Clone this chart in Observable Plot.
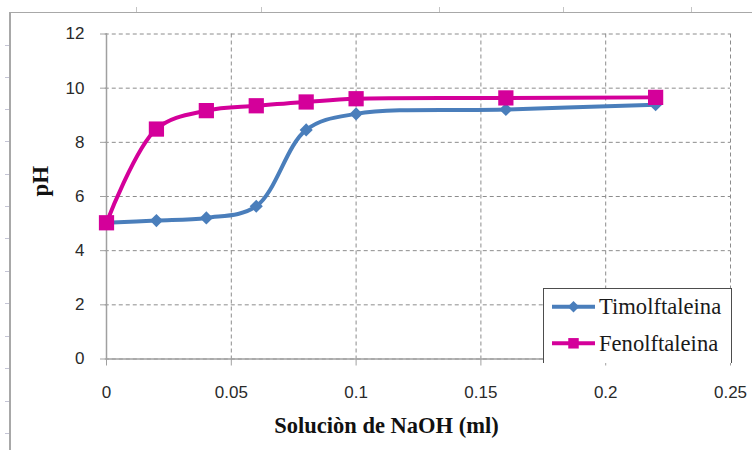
<!DOCTYPE html>
<html>
<head>
<meta charset="utf-8">
<script src="https://cdn.jsdelivr.net/npm/d3@7"></script>
<script src="https://cdn.jsdelivr.net/npm/@observablehq/plot@0.6"></script>
<style>
  html, body { margin: 0; padding: 0; background: #fff; }
  #wrap { position: relative; width: 752px; height: 450px; overflow: hidden; background: #fff; }
  #wrap svg.plot { position: absolute; left: 0; top: 0; }
  .frame { position: absolute; background: #a8a8a8; }
  #legend { position: absolute; background: #fff; border: 1.5px solid #4d4d4d; border-bottom: none; box-sizing: border-box; }
</style>
</head>
<body>
<div id="wrap"></div>
<script>
// ---- data ----
const naoh = [0, 0.02, 0.04, 0.06, 0.08, 0.1, 0.16, 0.22];
const timolftaleina = [5.03, 5.11, 5.21, 5.64, 8.46, 9.05, 9.21, 9.39];
const fenolftaleina = [5.03, 8.49, 9.17, 9.35, 9.49, 9.61, 9.64, 9.66];
const seriesNames = ["Timolftaleina", "Fenolftaleina"];
const xTicks = [0, 0.05, 0.1, 0.15, 0.2, 0.25];
const yTicks = [0, 2, 4, 6, 8, 10, 12];
const xTitle = "Soluciòn de NaOH (ml)";
const yTitle = "pH";

const colors = ["#4a7ebb", "#d4009a"];
const symbols = ["diamond2", "square"];

const rows = [];
naoh.forEach((x, i) => {
  rows.push({x, y: timolftaleina[i], s: seriesNames[0]});
});
naoh.forEach((x, i) => {
  rows.push({x, y: fenolftaleina[i], s: seriesNames[1]});
});
const s0 = rows.filter(d => d.s === seriesNames[0]);
const s1 = rows.filter(d => d.s === seriesNames[1]);

const chart = Plot.plot({
  width: 752,
  height: 450,
  marginLeft: 106,
  marginRight: 22,
  marginTop: 33.5,
  marginBottom: 91.5,
  style: {fontFamily: "'Liberation Sans', Arial, sans-serif", fontSize: "17px", color: "#2a2a2a", background: "transparent"},
  x: {domain: [0, 0.25]},
  y: {domain: [0, 12]},
  marks: [
    Plot.gridX(xTicks, {stroke: "#8c8c8c", strokeOpacity: 1, strokeDasharray: "4,3", strokeWidth: 1}),
    Plot.gridY(yTicks, {stroke: "#8c8c8c", strokeOpacity: 1, strokeDasharray: "4,3", strokeWidth: 1, x1: -0.0005, x2: 0.25}),
    Plot.axisX(xTicks, {tickSize: 7, tickPadding: 20, stroke: "#a0a0a0", fontSize: 17, tickFormat: d => String(+d.toFixed(2)), label: null}),
    Plot.axisY(yTicks, {tickSize: 6, tickPadding: 16, stroke: "#a0a0a0", fontSize: 17, label: null}),
    Plot.ruleX([0], {stroke: "#a0a0a0", strokeWidth: 1.5}),
    Plot.ruleY([0], {stroke: "#a0a0a0", strokeWidth: 1.5}),
    Plot.line(s0, {x: "x", y: "y", stroke: colors[0], strokeWidth: 4, curve: "catmull-rom"}),
    Plot.dot(s0, {x: "x", y: "y", symbol: symbols[0], fill: colors[0], r: 5.9}),
    Plot.line(s1, {x: "x", y: "y", stroke: colors[1], strokeWidth: 4, curve: "catmull-rom"}),
    Plot.dot(s1, {x: "x", y: "y", symbol: symbols[1], fill: colors[1], r: 8.6}),
    Plot.text([xTitle], {frameAnchor: "bottom", dy: 66.5, dx: -32, lineAnchor: "middle", fontFamily: "'Liberation Serif', 'Times New Roman', serif", fontWeight: "bold", fontSize: 22.5, fill: "#111"}),
    Plot.text([yTitle], {frameAnchor: "left", dx: -66, rotate: -90, lineAnchor: "middle", fontFamily: "'Liberation Serif', 'Times New Roman', serif", fontWeight: "bold", fontSize: 23, fill: "#111"})
  ]
});
chart.classList.add("plot");
const wrap = document.getElementById("wrap");

// page frame decorations
function addDiv(cls, l, t, w, h, bg) {
  const d = document.createElement("div");
  d.className = cls;
  Object.assign(d.style, {left: l + "px", top: t + "px", width: w + "px", height: h + "px"});
  if (bg) d.style.background = bg;
  wrap.appendChild(d);
}
addDiv("frame", 9, 12, 2, 438);
addDiv("frame", 9, 11.5, 743, 1.5);
[45, 77, 109, 141, 174, 206, 238, 271, 303, 336, 368, 401, 433].forEach(t => addDiv("frame", 5, t, 4, 1, "#c4c4d4"));
[136, 261, 439, 563, 691].forEach(l => addDiv("frame", l, 7, 1, 5, "#c4c4c4"));

wrap.appendChild(chart);

// legend
const leg = document.createElement("div");
leg.id = "legend";
Object.assign(leg.style, {left: "543px", top: "288px", width: "189px", height: "75px"});
const ns = "http://www.w3.org/2000/svg";
const lsvg = document.createElementNS(ns, "svg");
lsvg.setAttribute("width", 189);
lsvg.setAttribute("height", 75);
lsvg.style.position = "absolute";
lsvg.style.left = "-1.5px";
lsvg.style.top = "-1.5px";
const rowY = [18.7, 55.3];
seriesNames.forEach((name, i) => {
  const y = rowY[i];
  const ln = document.createElementNS(ns, "line");
  ln.setAttribute("x1", 9); ln.setAttribute("x2", 52);
  ln.setAttribute("y1", y); ln.setAttribute("y2", y);
  ln.setAttribute("stroke", colors[i]); ln.setAttribute("stroke-width", 4);
  lsvg.appendChild(ln);
  const p = document.createElementNS(ns, "path");
  const sym = i === 0 ? d3.symbol(d3.symbolDiamond2, 85) : d3.symbol(d3.symbolSquare, 110);
  p.setAttribute("d", sym());
  p.setAttribute("transform", `translate(30.5,${y})`);
  p.setAttribute("fill", colors[i]);
  lsvg.appendChild(p);
  const t = document.createElementNS(ns, "text");
  t.setAttribute("x", 56);
  t.setAttribute("y", y + 7.5);
  t.setAttribute("font-family", "'Liberation Serif', 'Times New Roman', serif");
  t.setAttribute("font-size", 22.6);
  t.setAttribute("fill", "#1a1a1a");
  t.textContent = name;
  lsvg.appendChild(t);
});
leg.appendChild(lsvg);
wrap.appendChild(leg);
</script>
</body>
</html>
